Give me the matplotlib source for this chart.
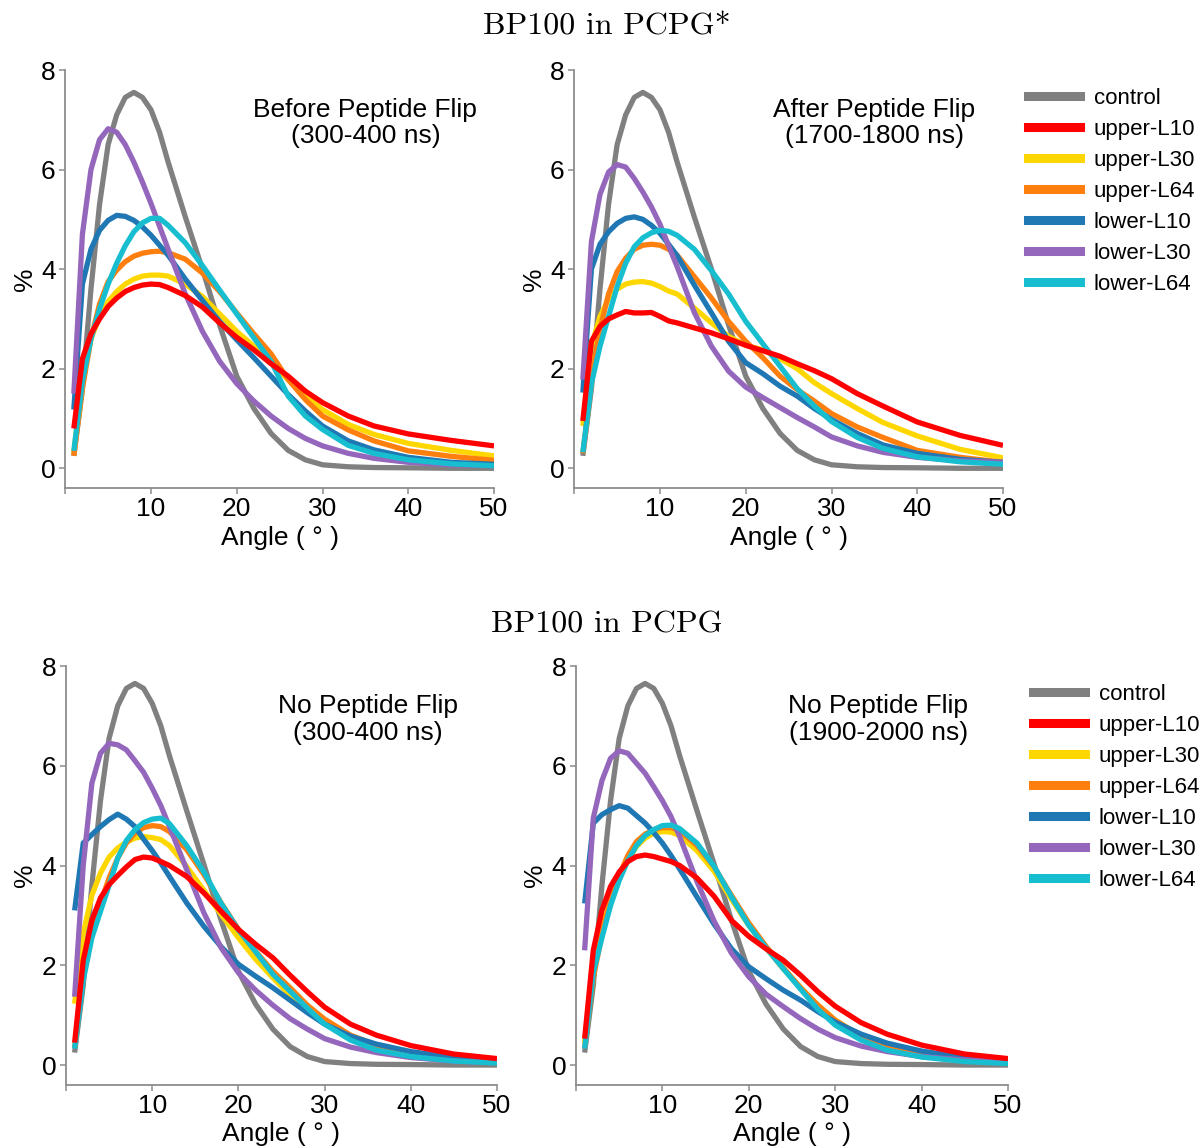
import matplotlib
matplotlib.use("Agg")
import matplotlib.pyplot as plt
from matplotlib.lines import Line2D

plt.rcParams['font.family'] = ['Liberation Sans', 'DejaVu Sans']

# ---------------- data ----------------
angle = [1, 2, 3, 4, 5, 6, 7, 8, 9, 10, 11, 12, 14, 16, 18, 20, 22, 24, 26, 28, 30, 33, 36, 40, 45, 50]

series_names = ["control", "upper-L10", "upper-L30", "upper-L64", "lower-L10", "lower-L30", "lower-L64"]
series_colors = ["#808080", "#ff0000", "#ffd700", "#ff7f0e", "#1f77b4", "#9467bd", "#17becf"]

# Panel 1: BP100 in PCPG*, before peptide flip (300-400 ns)
p1_control = [0.25, 1.6, 3.6, 5.3, 6.5, 7.1, 7.45, 7.55, 7.45, 7.2, 6.75, 6.15, 5.05, 4.0, 2.88, 1.85, 1.2, 0.7, 0.36, 0.17, 0.07, 0.03, 0.015, 0.01, 0.0, 0.0]
p1_upper_L10 = [0.8, 2.2, 2.7, 3.0, 3.25, 3.42, 3.55, 3.63, 3.68, 3.7, 3.69, 3.63, 3.47, 3.24, 2.92, 2.63, 2.38, 2.1, 1.85, 1.55, 1.32, 1.05, 0.85, 0.69, 0.56, 0.45]
p1_upper_L30 = [0.3, 1.8, 2.6, 3.05, 3.35, 3.55, 3.7, 3.8, 3.86, 3.88, 3.88, 3.86, 3.7, 3.45, 3.1, 2.75, 2.45, 2.12, 1.78, 1.45, 1.18, 0.88, 0.68, 0.5, 0.36, 0.25]
p1_upper_L64 = [0.25, 1.6, 2.6, 3.3, 3.75, 3.98, 4.15, 4.26, 4.32, 4.35, 4.36, 4.33, 4.2, 3.92, 3.55, 3.12, 2.7, 2.3, 1.78, 1.38, 1.05, 0.77, 0.55, 0.35, 0.24, 0.16]
p1_lower_L10 = [1.18, 3.7, 4.4, 4.78, 4.98, 5.08, 5.06, 4.98, 4.85, 4.68, 4.48, 4.28, 3.8, 3.37, 2.95, 2.58, 2.22, 1.85, 1.48, 1.15, 0.85, 0.55, 0.37, 0.22, 0.12, 0.08]
p1_lower_L30 = [1.5, 4.7, 6.0, 6.6, 6.82, 6.75, 6.5, 6.15, 5.75, 5.32, 4.86, 4.4, 3.5, 2.75, 2.15, 1.7, 1.35, 1.05, 0.8, 0.6, 0.45, 0.3, 0.2, 0.12, 0.07, 0.05]
p1_lower_L64 = [0.35, 1.75, 2.6, 3.2, 3.7, 4.12, 4.47, 4.75, 4.93, 5.02, 5.02, 4.88, 4.53, 4.07, 3.58, 3.1, 2.62, 2.15, 1.45, 1.05, 0.78, 0.46, 0.3, 0.17, 0.09, 0.05]

# Panel 2: BP100 in PCPG*, after peptide flip (1700-1800 ns)
p2_control = [0.25, 1.6, 3.6, 5.3, 6.5, 7.1, 7.45, 7.55, 7.45, 7.2, 6.75, 6.15, 5.05, 4.0, 2.88, 1.85, 1.2, 0.7, 0.36, 0.17, 0.07, 0.03, 0.015, 0.01, 0.0, 0.0]
p2_upper_L10 = [0.95, 2.55, 2.85, 3.0, 3.08, 3.15, 3.12, 3.12, 3.13, 3.05, 2.96, 2.92, 2.82, 2.72, 2.6, 2.47, 2.36, 2.25, 2.1, 1.96, 1.8, 1.5, 1.25, 0.93, 0.66, 0.46]
p2_upper_L30 = [0.85, 2.45, 3.05, 3.4, 3.6, 3.7, 3.74, 3.75, 3.72, 3.65, 3.56, 3.5, 3.22, 2.92, 2.65, 2.47, 2.38, 2.2, 2.0, 1.72, 1.5, 1.2, 0.92, 0.65, 0.38, 0.21]
p2_upper_L64 = [0.3, 1.7, 2.8, 3.5, 3.95, 4.22, 4.4, 4.48, 4.5, 4.48, 4.4, 4.28, 3.85, 3.42, 2.95, 2.55, 2.22, 1.85, 1.58, 1.35, 1.1, 0.83, 0.62, 0.36, 0.22, 0.12]
p2_lower_L10 = [1.52, 4.0, 4.5, 4.75, 4.92, 5.02, 5.05, 5.0, 4.88, 4.72, 4.5, 4.27, 3.68, 3.12, 2.55, 2.12, 1.9, 1.65, 1.45, 1.2, 0.98, 0.7, 0.47, 0.3, 0.18, 0.12]
p2_lower_L30 = [1.78, 4.55, 5.5, 5.95, 6.1, 6.05, 5.82, 5.55, 5.25, 4.9, 4.47, 4.05, 3.13, 2.45, 1.95, 1.63, 1.42, 1.22, 1.02, 0.83, 0.63, 0.45, 0.32, 0.22, 0.15, 0.12]
p2_lower_L64 = [0.32, 1.7, 2.45, 3.05, 3.65, 4.12, 4.45, 4.63, 4.73, 4.78, 4.76, 4.68, 4.4, 3.97, 3.5, 2.95, 2.5, 2.05, 1.6, 1.25, 0.94, 0.62, 0.4, 0.23, 0.13, 0.08]

# Panel 3: BP100 in PCPG, no peptide flip (300-400 ns)
p3_control = [0.25, 1.6, 3.6, 5.3, 6.55, 7.2, 7.55, 7.65, 7.55, 7.25, 6.8, 6.2, 5.1, 4.02, 2.9, 1.88, 1.22, 0.72, 0.37, 0.17, 0.07, 0.03, 0.015, 0.01, 0.0, 0.0]
p3_upper_L10 = [0.45, 2.1, 2.9, 3.35, 3.62, 3.8, 3.97, 4.12, 4.17, 4.15, 4.08, 4.0, 3.78, 3.45, 3.08, 2.72, 2.42, 2.15, 1.8, 1.47, 1.16, 0.82, 0.6, 0.39, 0.22, 0.13]
p3_upper_L30 = [1.23, 2.65, 3.4, 3.85, 4.17, 4.35, 4.47, 4.55, 4.58, 4.56, 4.52, 4.4, 3.98, 3.5, 3.02, 2.55, 2.12, 1.75, 1.4, 1.1, 0.86, 0.58, 0.38, 0.22, 0.12, 0.07]
p3_upper_L64 = [0.35, 1.75, 2.6, 3.25, 3.75, 4.15, 4.45, 4.65, 4.76, 4.8, 4.78, 4.68, 4.32, 3.82, 3.25, 2.72, 2.28, 1.88, 1.55, 1.2, 0.92, 0.6, 0.4, 0.23, 0.12, 0.07]
p3_lower_L10 = [3.1, 4.45, 4.62, 4.78, 4.92, 5.03, 4.93, 4.78, 4.53, 4.3, 4.05, 3.78, 3.25, 2.78, 2.37, 2.02, 1.78, 1.55, 1.3, 1.05, 0.82, 0.58, 0.42, 0.27, 0.15, 0.07]
p3_lower_L30 = [1.37, 4.0, 5.65, 6.25, 6.45, 6.42, 6.32, 6.1, 5.87, 5.55, 5.2, 4.78, 3.92, 3.05, 2.35, 1.85, 1.5, 1.2, 0.93, 0.72, 0.53, 0.36, 0.25, 0.15, 0.08, 0.05]
p3_lower_L64 = [0.33, 1.7, 2.55, 3.08, 3.6, 4.15, 4.5, 4.72, 4.86, 4.93, 4.95, 4.84, 4.4, 3.87, 3.24, 2.71, 2.27, 1.82, 1.48, 1.14, 0.82, 0.5, 0.3, 0.17, 0.08, 0.04]

# Panel 4: BP100 in PCPG, no peptide flip (1900-2000 ns)
p4_control = [0.25, 1.6, 3.6, 5.3, 6.55, 7.2, 7.55, 7.65, 7.55, 7.25, 6.8, 6.2, 5.1, 4.02, 2.9, 1.88, 1.22, 0.72, 0.37, 0.17, 0.07, 0.03, 0.015, 0.01, 0.0, 0.0]
p4_upper_L10 = [0.53, 2.3, 3.1, 3.58, 3.87, 4.08, 4.18, 4.21, 4.18, 4.13, 4.08, 4.0, 3.75, 3.38, 2.9, 2.58, 2.33, 2.1, 1.8, 1.47, 1.18, 0.85, 0.62, 0.4, 0.22, 0.13]
p4_upper_L30 = [0.45, 2.0, 2.75, 3.3, 3.75, 4.1, 4.38, 4.55, 4.65, 4.68, 4.67, 4.6, 4.3, 3.88, 3.32, 2.8, 2.35, 1.93, 1.55, 1.2, 0.9, 0.58, 0.37, 0.2, 0.1, 0.05]
p4_upper_L64 = [0.35, 1.75, 2.6, 3.3, 3.8, 4.2, 4.48, 4.63, 4.72, 4.76, 4.76, 4.7, 4.4, 3.97, 3.4, 2.85, 2.38, 1.95, 1.55, 1.2, 0.9, 0.57, 0.35, 0.19, 0.09, 0.04]
p4_lower_L10 = [3.24, 4.85, 5.02, 5.12, 5.2, 5.15, 5.0, 4.85, 4.66, 4.45, 4.2, 3.93, 3.37, 2.82, 2.33, 1.97, 1.73, 1.5, 1.3, 1.07, 0.86, 0.62, 0.44, 0.28, 0.15, 0.07]
p4_lower_L30 = [2.3, 4.95, 5.7, 6.15, 6.3, 6.25, 6.05, 5.85, 5.58, 5.3, 4.98, 4.58, 3.68, 2.88, 2.24, 1.77, 1.42, 1.17, 0.93, 0.72, 0.55, 0.38, 0.27, 0.17, 0.1, 0.07]
p4_lower_L64 = [0.33, 1.85, 2.55, 3.2, 3.7, 4.1, 4.4, 4.6, 4.72, 4.8, 4.81, 4.74, 4.45, 3.98, 3.37, 2.8, 2.35, 1.93, 1.52, 1.12, 0.8, 0.5, 0.3, 0.16, 0.07, 0.03]

panels = [
    [p1_control, p1_upper_L10, p1_upper_L30, p1_upper_L64, p1_lower_L10, p1_lower_L30, p1_lower_L64],
    [p2_control, p2_upper_L10, p2_upper_L30, p2_upper_L64, p2_lower_L10, p2_lower_L30, p2_lower_L64],
    [p3_control, p3_upper_L10, p3_upper_L30, p3_upper_L64, p3_lower_L10, p3_lower_L30, p3_lower_L64],
    [p4_control, p4_upper_L10, p4_upper_L30, p4_upper_L64, p4_lower_L10, p4_lower_L30, p4_lower_L64],
]
panel_notes = ["Before Peptide Flip\n(300-400 ns)", "After Peptide Flip\n(1700-1800 ns)",
               "No Peptide Flip\n(300-400 ns)", "No Peptide Flip\n(1900-2000 ns)"]
row_titles = ["BP100 in PCPG*", "BP100 in PCPG"]
x_ticks = [0, 10, 20, 30, 40, 50]
x_ticklabels = ["", "10", "20", "30", "40", "50"]
y_ticks = [0, 2, 4, 6, 8]

# ---------------- layout ----------------
W, H = 1200, 1148
fig = plt.figure(figsize=(W / 100, H / 100), dpi=100)

def rect(l, r, t, b):
    return [l / W, 1 - b / H, (r - l) / W, (b - t) / H]

rects = [rect(65.25, 494, 70, 487.7), rect(574.25, 1003, 70, 487.7),
         rect(66, 497, 666, 1084.5), rect(576, 1008, 666, 1084.5)]

draw_order = [0, 2, 3, 4, 5, 6, 1]
spine_col = "#8c8c8c"
fs_tick = 19
fs_lab = 19

for i, (pdata, r) in enumerate(zip(panels, rects)):
    ax = fig.add_axes(r)
    for k in draw_order:
        ax.plot(angle, pdata[k], color=series_colors[k], lw=3.8, solid_capstyle='butt',
                solid_joinstyle='round')
    ax.set_xlim(0, 50)
    ax.set_ylim(-0.39, 8)
    ax.set_xticks(x_ticks)
    ax.set_xticklabels(x_ticklabels)
    ax.set_yticks(y_ticks)
    for s in ['top', 'right']:
        ax.spines[s].set_visible(False)
    for s in ['left', 'bottom']:
        ax.spines[s].set_color(spine_col)
        ax.spines[s].set_linewidth(1.3)
    ax.tick_params(direction='out', length=4, width=1.1, color=spine_col,
                   labelsize=fs_tick, pad=3)
    ax.set_xlabel("Angle ( ° )", fontsize=fs_lab, labelpad=3)
    ax.set_ylabel("%", fontsize=fs_lab, labelpad=3)
    ax.text(35, 6.93, panel_notes[i], ha='center', va='center', fontsize=19,
            linespacing=1.12)

# row titles
fig.text(607 / W, 1 - 27 / H, row_titles[0], ha='center', va='center',
         fontsize=23, family=['cmr10', 'DejaVu Serif'])
fig.text(607 / W, 1 - 625 / H, row_titles[1], ha='center', va='center',
         fontsize=23, family=['cmr10', 'DejaVu Serif'])

handles = [Line2D([0], [0], color=c, lw=6.5) for c in series_colors]
for (lx, ty) in [(1028, 88), (1033, 684)]:
    fig.legend(handles, series_names, loc='upper left',
               bbox_to_anchor=(lx / W, 1 - ty / H), frameon=False,
               fontsize=16, handlelength=2.35, handletextpad=0.6,
               labelspacing=0.45, borderpad=0, borderaxespad=0)

fig.savefig("out.png", dpi=100)
